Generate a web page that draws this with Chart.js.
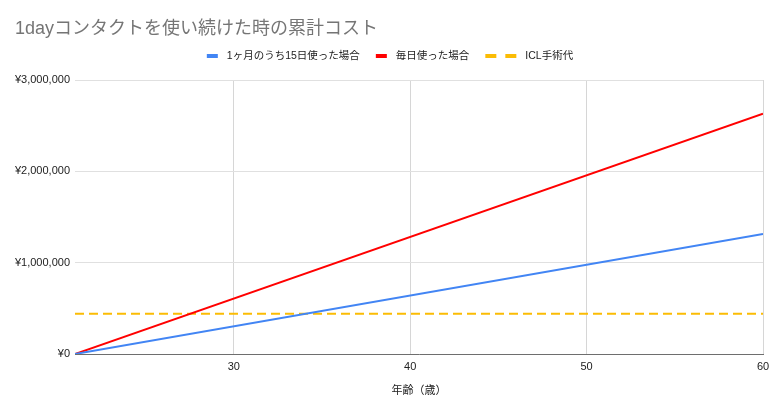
<!DOCTYPE html>
<html>
<head>
<meta charset="utf-8">
<script src="https://cdn.jsdelivr.net/npm/chart.js@4/dist/chart.umd.min.js"></script>
<style>
  html, body { margin: 0; padding: 0; background: #fff; }
  #wrap { width: 776px; height: 408px; position: relative; }
</style>
</head>
<body>
<div id="wrap"><canvas id="chart"></canvas></div>
<script>
// data
const titleText = '1dayコンタクトを使い続けた時の累計コスト';
const xTitle = '年齢（歳）';
const ages = [21, 60];
const halfMonthCost = [0, 1315000];   // 1ヶ月のうち15日使った場合
const everyDayCost = [0, 2630000];    // 毎日使った場合
const iclCost = [440000, 440000];     // ICL手術代
const xTicks = [30, 40, 50, 60];
const yTicks = [0, 1000000, 2000000, 3000000];

const FONT = "'Liberation Sans', Arial, 'Noto Sans CJK JP', sans-serif";

const toPoints = (vals) => vals.map((v, i) => ({ x: ages[i], y: v }));

// title + legend drawn Google-chart style
const headerPlugin = {
  id: 'header',
  afterDraw(chart) {
    const ctx = chart.ctx;
    ctx.save();
    ctx.fillStyle = '#757575';
    ctx.font = '18px ' + FONT;
    ctx.textBaseline = 'alphabetic';
    ctx.textAlign = 'left';
    ctx.fillText(titleText, 15, 34);

    ctx.font = '10.5px ' + FONT;
    const items = chart.data.datasets.map(ds => ({
      text: ds.label,
      color: ds.borderColor,
      dashed: !!ds.borderDash,
      boxW: ds.borderDash ? 31 : 11
    }));
    const boxGap = 9, itemGap = 16;
    let total = 0;
    items.forEach((it, i) => {
      it.textW = ctx.measureText(it.text).width;
      total += it.boxW + boxGap + it.textW + (i < items.length - 1 ? itemGap : 0);
    });
    let x = (chart.width - total) / 2 + 2;
    const y = 56;
    items.forEach(it => {
      ctx.fillStyle = it.color;
      ctx.fillRect(x, y - 2, 11, 4);
      if (it.dashed) ctx.fillRect(x + 20, y - 2, 11, 4);
      x += it.boxW + boxGap;
      ctx.fillStyle = '#222';
      ctx.textBaseline = 'middle';
      ctx.fillText(it.text, x, y + 0.5);
      x += it.textW + itemGap;
    });
    ctx.restore();
  }
};

new Chart(document.getElementById('chart'), {
  type: 'line',
  data: {
    datasets: [
      {
        label: '1ヶ月のうち15日使った場合',
        data: toPoints(halfMonthCost),
        borderColor: '#4285f4',
        backgroundColor: '#4285f4',
        borderWidth: 2
      },
      {
        label: '毎日使った場合',
        data: toPoints(everyDayCost),
        borderColor: '#ff0000',
        backgroundColor: '#ff0000',
        borderWidth: 2
      },
      {
        label: 'ICL手術代',
        data: toPoints(iclCost),
        borderColor: '#fbbc04',
        backgroundColor: '#fbbc04',
        borderWidth: 2,
        borderDash: [9, 5]
      }
    ]
  },
  options: {
    responsive: true,
    maintainAspectRatio: false,
    animation: false,
    elements: { point: { radius: 0, hoverRadius: 0 }, line: { tension: 0 } },
    layout: { padding: { top: 80, right: 13, left: 0, bottom: 0 } },
    plugins: {
      legend: { display: false },
      title: { display: false },
      tooltip: { enabled: false }
    },
    scales: {
      x: {
        type: 'linear',
        min: ages[0],
        max: ages[ages.length - 1],
        afterBuildTicks: axis => { axis.ticks = xTicks.map(v => ({ value: v })); },
        afterFit: scale => { scale.height = 54; },
        grid: { color: '#d6d6d6', drawTicks: false },
        border: { display: true, color: '#6e6e6e', width: 1 },
        ticks: {
          padding: 6,
          color: '#222',
          font: { family: FONT, size: 11 },
          maxRotation: 0
        },
        title: {
          display: true,
          text: xTitle,
          color: '#222',
          font: { family: FONT, size: 11 },
          padding: { top: 0, bottom: 10 }
        }
      },
      y: {
        min: 0,
        max: 3000000,
        afterBuildTicks: axis => { axis.ticks = yTicks.map(v => ({ value: v })); },
        afterFit: scale => { scale.width = 75; },
        grid: { color: '#e0e0e0', drawTicks: false },
        border: { display: false },
        ticks: {
          padding: 5,
          color: '#222',
          font: { family: FONT, size: 11 },
          callback: v => '¥' + Number(v).toLocaleString('en-US')
        }
      }
    }
  },
  plugins: [headerPlugin]
});
</script>
</body>
</html>
